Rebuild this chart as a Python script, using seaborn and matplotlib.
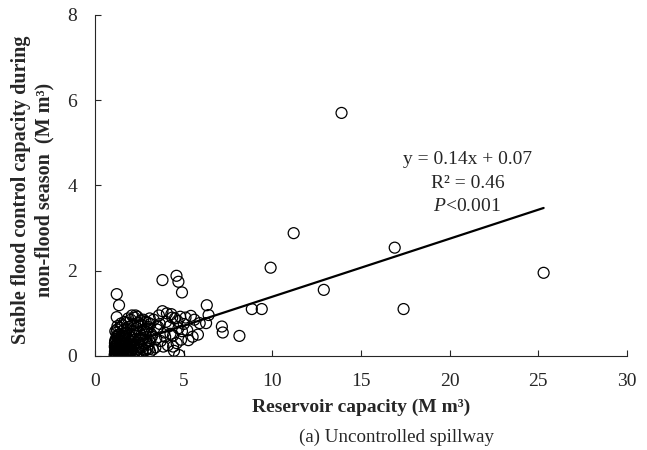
import numpy as np
import pandas as pd
import seaborn as sns
import matplotlib.pyplot as plt

sns.set_style("ticks")
plt.rcParams['font.family'] = ['Liberation Serif', 'DejaVu Serif']
plt.rcParams['mathtext.fontset'] = 'custom'
plt.rcParams['mathtext.rm'] = 'Liberation Serif'
plt.rcParams['mathtext.it'] = 'Liberation Serif:italic'

# reservoir capacity (M m3)
capacity = [
    # dense block
    1.10, 1.12, 1.14, 1.16, 1.18, 1.20, 1.22, 1.24, 1.26, 1.28,
    1.11, 1.13, 1.15, 1.17, 1.19, 1.21, 1.23, 1.27, 1.29, 1.32,
    1.34, 1.36, 1.38, 1.40, 1.42, 1.44, 1.47, 1.49, 1.31, 1.35,
    1.12, 1.15, 1.18, 1.21, 1.25, 1.28, 1.30, 1.37, 1.41, 1.46,
    1.50, 1.53, 1.56, 1.58, 1.61, 1.64, 1.67, 1.70, 1.73, 1.76,
    1.79, 1.82, 1.85, 1.88, 1.91, 1.94, 1.97, 2.00, 2.03, 2.06,
    2.09, 2.12, 2.15, 2.18, 1.52, 1.60, 1.68, 1.75, 1.83, 1.90,
    1.98, 2.05, 2.13, 1.55, 1.63, 1.72, 1.80, 1.87, 1.95, 2.02,
    1.14, 1.24, 1.33, 1.43, 1.54, 1.65, 1.78, 1.89, 2.01, 2.14,
    2.27, 2.38, 2.58, 2.78, 2.98, 1.18, 1.38, 1.58, 1.78, 1.98,
    2.18, 2.44, 2.64, 2.84, 3.04, 1.26, 1.46, 1.66, 1.86, 2.08,
    2.20, 2.25, 2.30, 2.35, 2.40, 2.45, 2.50, 2.55, 2.60, 2.65,
    2.70, 2.75, 2.80, 2.85, 2.90, 2.95, 3.00, 3.05, 3.10, 3.15,
    2.22, 2.33, 2.42, 2.52, 2.62, 2.72, 2.82, 2.92, 3.02, 3.12,
    2.28, 2.48, 2.68, 2.88, 3.08,
    3.20, 3.30, 3.40, 3.50, 3.60, 3.70, 3.80, 3.90, 4.00, 4.10,
    4.20, 4.30, 4.40, 4.50, 4.60, 4.70, 4.80, 4.90, 3.25, 3.45,
    3.65, 3.85, 4.05, 4.25, 4.45, 4.65, 4.85, 3.55, 3.95, 4.35,
    5.00, 5.20, 5.40, 5.60, 5.80, 5.26, 4.74, 4.40, 5.10, 5.50,
    # scattered points
    4.59, 4.70, 4.90, 3.80, 1.22, 1.35, 1.22, 6.30, 6.40, 6.26,
    5.90, 7.15, 7.20, 8.14, 8.84, 9.40, 9.90, 11.2, 12.9, 13.9,
    16.9, 17.4, 25.3,
]
flood_capacity = [
    0.02, 0.10, 0.05, 0.18, 0.08, 0.25, 0.12, 0.03, 0.30, 0.15,
    0.22, 0.35, 0.14, 0.40, 0.06, 0.20, 0.45, 0.09, 0.28, 0.04,
    0.17, 0.38, 0.07, 0.26, 0.13, 0.33, 0.01, 0.21, 0.50, 0.11,
    0.30, 0.04, 0.27, 0.55, 0.16, 0.42, 0.09, 0.24, 0.36, 0.12,
    0.05, 0.22, 0.12, 0.35, 0.08, 0.28, 0.16, 0.45, 0.03, 0.19,
    0.31, 0.10, 0.40, 0.14, 0.26, 0.06, 0.36, 0.20, 0.52, 0.11,
    0.29, 0.07, 0.38, 0.18, 0.48, 0.60, 0.02, 0.55, 0.24, 0.47,
    0.13, 0.33, 0.58, 0.30, 0.41, 0.09, 0.62, 0.03, 0.50, 0.15,
    0.58, 0.62, 0.48, 0.66, 0.72, 0.52, 0.78, 0.68, 0.85, 0.74,
    0.58, 0.92, 0.83, 0.62, 0.78, 0.05, 0.08, 0.12, 0.06, 0.10,
    0.04, 0.15, 0.09, 0.13, 0.16, 0.70, 0.76, 0.80, 0.88, 0.95,
    0.25, 0.48, 0.12, 0.65, 0.32, 0.08, 0.55, 0.22, 0.72, 0.38,
    0.15, 0.60, 0.28, 0.80, 0.45, 0.18, 0.68, 0.35, 0.10, 0.52,
    0.90, 0.05, 0.78, 0.40, 0.20, 0.85, 0.50, 0.62, 0.27, 0.75,
    0.95, 0.70, 0.42, 0.33, 0.88,
    0.45, 0.85, 0.20, 0.62, 0.95, 0.35, 1.05, 0.55, 0.80, 0.25,
    0.70, 0.98, 0.48, 0.88, 0.30, 0.65, 0.92, 0.58, 0.15, 0.40,
    0.75, 0.22, 1.00, 0.52, 0.12, 0.82, 0.38, 0.68, 0.45, 0.90,
    0.75, 0.60, 0.94, 0.85, 0.50, 0.37, 0.02, 0.22, 0.90, 0.45,
    1.88, 1.74, 1.49, 1.78, 1.45, 1.19, 0.91, 1.19, 0.96, 0.77,
    0.77, 0.69, 0.55, 0.47, 1.10, 1.10, 2.07, 2.88, 1.55, 5.70,
    2.54, 1.10, 1.95,
]

# fitted line as drawn in the figure
fit_slope = 0.136
fit_intercept = 0.03
fit_label = ["y = 0.14x + 0.07", "R\u00b2 = 0.46", "$\\mathit{P}$<0.001"]

df = pd.DataFrame({"capacity": capacity, "flood": flood_capacity})

fig = plt.figure(figsize=(6.47, 4.5), dpi=100)
ax = fig.add_axes([0.147, 0.209, 0.822, 0.758])

sns.scatterplot(data=df, x="capacity", y="flood", ax=ax, s=62,
                facecolor="none", edgecolor="black", linewidth=0.9,
                legend=False)

xs = np.array([min(capacity), max(capacity)])
ax.plot(xs, fit_slope * xs + fit_intercept, color="black", lw=1.6)

ax.set_xlim(0, 30)
ax.set_ylim(0, 8)
ax.set_xticks(range(0, 31, 5))
ax.set_yticks(range(0, 9, 2))
ax.tick_params(direction="in", length=4, labelsize=14, width=0.8)
ax.tick_params(axis="x", pad=12)
ax.tick_params(axis="y", pad=13)
sns.despine(ax=ax)
for sp in ["left", "bottom"]:
    ax.spines[sp].set_linewidth(0.8)
ax.set_xlabel("")
ax.set_ylabel("")

for i, t in enumerate(fit_label):
    ax.text(21.0, 4.6 - i * 0.55, t, ha="center", va="center", fontsize=14)

fig.text(0.558, 0.095, "Reservoir capacity (M m\u00b3)", ha="center",
         va="center", fontsize=14, fontweight="bold")
fig.text(0.051, 0.578,
         "Stable flood control capacity during\nnon-flood season  (M m\u00b3)",
         ha="center", va="center", rotation=90, fontsize=14.5,
         fontweight="bold", linespacing=1.2)
fig.text(0.613, 0.029, "(a) Uncontrolled spillway", ha="center",
         va="center", fontsize=13.7)

plt.savefig("out.png", dpi=100)
